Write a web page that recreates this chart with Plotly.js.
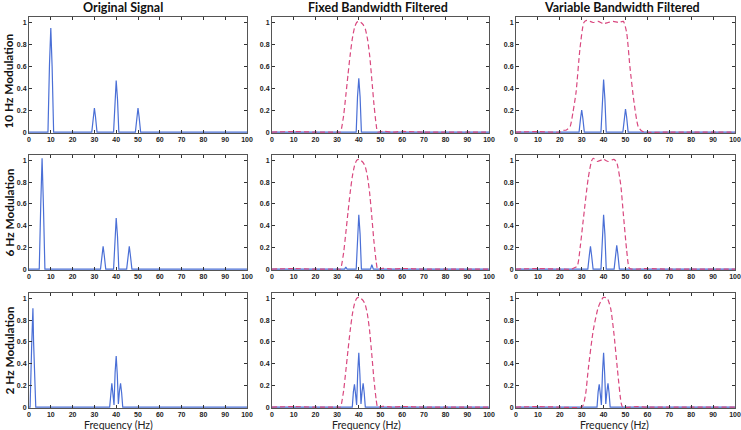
<!DOCTYPE html>
<html>
<head>
<meta charset="utf-8">
<script src="https://cdn.plot.ly/plotly-3.0.1.min.js"></script>
<style>
  html, body { margin: 0; padding: 0; background: #fff; }
  #chart { width: 741px; height: 430px; }
</style>
</head>
<body>
<div id="chart"></div>
<script>
// column / row labels
var colTitles = ['Original Signal', 'Fixed Bandwidth Filtered', 'Variable Bandwidth Filtered'];
var rowTitles = ['10 Hz Modulation', '6 Hz Modulation', '2 Hz Modulation'];
var xTickVals = [0, 10, 20, 30, 40, 50, 60, 70, 80, 90, 100];
var yTickVals = [0, 0.2, 0.4, 0.6, 0.8, 1];

// row 1: 10 Hz modulation
var orig10X = [0, 8.7, 9.4, 10, 10.6, 11.3, 28.8, 29.5, 30, 30.5, 31.2, 38.8, 39.4, 40, 40.6, 41.2, 48.8, 49.5, 50, 50.5, 51.2, 100];
var orig10Y = [0, 0, 0.62, 0.95, 0.6, 0, 0, 0.14, 0.22, 0.14, 0, 0, 0.3, 0.47, 0.3, 0, 0, 0.14, 0.22, 0.14, 0, 0];
var fixed10X = [0, 38.8, 39.4, 40, 40.6, 41.2, 100];
var fixed10Y = [0, 0, 0.32, 0.49, 0.32, 0, 0];
var var10X = [0, 28.8, 29.5, 30, 30.5, 31.2, 38.8, 39.4, 40, 40.6, 41.2, 48.8, 49.5, 50, 50.5, 51.2, 100];
var var10Y = [0, 0, 0.13, 0.2, 0.13, 0, 0, 0.3, 0.48, 0.3, 0, 0, 0.14, 0.21, 0.14, 0, 0];
var band10X = [0, 10, 20, 21.5, 23, 24.7, 26, 27.4, 29.2, 31, 32.3, 35.2, 37.5, 39.8, 42.1, 44.4, 46.7, 49, 50.5, 52, 53.9, 55.8, 57.4, 59, 70, 80, 90, 100];
var band10Y = [0, 0.005, 0, 0.015, 0.02, 0.05, 0.18, 0.36, 0.76, 1.0, 1.02, 1.0, 1.01, 0.99, 1.0, 1.01, 1.0, 1.01, 0.91, 0.6, 0.27, 0.05, 0.01, 0, 0, 0, 0, 0];

// row 2: 6 Hz modulation
var orig6X = [0, 4.7, 5.4, 6, 6.6, 7.3, 32.8, 33.5, 34, 34.5, 35.2, 38.8, 39.4, 40, 40.6, 41.2, 44.8, 45.5, 46, 46.5, 47.2, 100];
var orig6Y = [0, 0, 0.6, 1.02, 0.6, 0, 0, 0.13, 0.21, 0.13, 0, 0, 0.3, 0.47, 0.3, 0, 0, 0.13, 0.21, 0.13, 0, 0];
var fixed6X = [0, 33.5, 34, 34.6, 38.8, 39.4, 40, 40.6, 41.2, 45.4, 46, 46.7, 100];
var fixed6Y = [0, 0, 0.02, 0, 0, 0.32, 0.5, 0.32, 0, 0, 0.04, 0, 0];
var var6X = [0, 32.8, 33.5, 34, 34.5, 35.2, 38.8, 39.4, 40, 40.6, 41.2, 44.8, 45.5, 46, 46.5, 47.2, 100];
var var6Y = [0, 0, 0.13, 0.21, 0.13, 0, 0, 0.32, 0.5, 0.32, 0, 0, 0.14, 0.22, 0.14, 0, 0];
var band6X = [0, 10, 20, 25.4, 26.5, 28, 29.3, 30.7, 33, 34.6, 35.3, 37.1, 39.9, 42.1, 44.7, 46, 47.8, 49, 50.5, 51.7, 53, 60, 70, 80, 90, 100];
var band6Y = [0, 0.005, 0, 0, 0.01, 0.03, 0.2, 0.45, 0.84, 1.0, 1.02, 0.99, 1.01, 0.99, 1.01, 0.98, 0.78, 0.51, 0.18, 0.01, 0, 0.005, 0, 0, 0, 0];

// row 3: 2 Hz modulation
var orig2X = [0, 0.5, 1.2, 1.8, 2.1, 2.5, 3.1, 37, 37.5, 38, 38.5, 39, 39.5, 40, 40.5, 41, 41.5, 42, 42.5, 43, 100];
var orig2Y = [0, 0, 0.55, 0.91, 0.6, 0.32, 0, 0, 0.15, 0.22, 0.12, 0.02, 0.32, 0.47, 0.3, 0.03, 0.15, 0.22, 0.13, 0, 0];
var fixed2X = [0, 37, 37.5, 38, 38.5, 39, 39.5, 40, 40.5, 41, 41.5, 42, 42.5, 43, 100];
var fixed2Y = [0, 0, 0.14, 0.21, 0.12, 0.02, 0.32, 0.5, 0.3, 0.03, 0.14, 0.22, 0.13, 0, 0];
var var2X = [0, 37, 37.5, 38, 38.5, 39, 39.5, 40, 40.5, 41, 41.5, 42, 42.5, 43, 100];
var var2Y = [0, 0, 0.14, 0.21, 0.12, 0.02, 0.32, 0.5, 0.3, 0.03, 0.14, 0.22, 0.13, 0, 0];
var band2X = [0, 10, 20, 30, 30.7, 31.8, 33, 35.3, 37.6, 39.9, 41.7, 43.2, 44.7, 46.3, 48, 48.7, 55, 60, 70, 80, 90, 100];
var band2Y = [0, 0.005, 0, 0, 0.02, 0.12, 0.35, 0.71, 0.92, 1.01, 1.0, 0.91, 0.68, 0.35, 0.04, 0, 0.005, 0, 0, 0, 0, 0];

// fixed filter response (same for every row)
var fixedBandX = [0, 10, 20, 30, 31.5, 32, 33, 34, 35, 36, 37, 38, 39, 40, 41, 42, 43, 44, 45, 46, 47, 48, 48.7, 51, 55, 60, 70, 80, 90, 100];
var fixedBandY = [0, 0.005, 0, 0, 0, 0.03, 0.15, 0.33, 0.52, 0.7, 0.85, 0.95, 1.0, 1.01, 1.0, 0.98, 0.94, 0.85, 0.7, 0.48, 0.25, 0.07, 0, 0.008, 0, 0.006, 0, 0, 0, 0];

var signals = [
  [[orig10X, orig10Y], [fixed10X, fixed10Y], [var10X, var10Y]],
  [[orig6X, orig6Y], [fixed6X, fixed6Y], [var6X, var6Y]],
  [[orig2X, orig2Y], [fixed2X, fixed2Y], [var2X, var2Y]]
];
var bands = [
  [null, [fixedBandX, fixedBandY], [band10X, band10Y]],
  [null, [fixedBandX, fixedBandY], [band6X, band6Y]],
  [null, [fixedBandX, fixedBandY], [band2X, band2Y]]
];

var W = 741, H = 430;
var colPx = [[29, 247], [272, 489], [516, 735]];
var rowPx = [[17, 133], [155, 270], [293, 408]];

var blue = '#4a6fd6';
var pink = '#d9487f';

var data = [];
var layout = {
  width: W, height: H,
  margin: {l: 0, r: 0, t: 0, b: 0},
  paper_bgcolor: '#fff', plot_bgcolor: '#fff',
  showlegend: false,
  font: {family: 'Liberation Sans, Arial, sans-serif', color: '#222'},
  annotations: []
};

for (var r = 0; r < 3; r++) {
  for (var c = 0; c < 3; c++) {
    var n = r * 3 + c + 1;
    var xa = n === 1 ? 'x' : 'x' + n;
    var ya = n === 1 ? 'y' : 'y' + n;
    var ax = {
      domain: [colPx[c][0] / W, colPx[c][1] / W],
      anchor: ya,
      range: [0, 100],
      tickvals: xTickVals,
      ticks: 'inside', ticklen: 3, tickcolor: '#333',
      showline: true, linecolor: '#555', linewidth: 1, mirror: 'ticks',
      showgrid: false, zeroline: false,
      tickfont: {size: 7, color: '#222', weight: 'bold'}
    };
    var ay = {
      domain: [1 - rowPx[r][1] / H, 1 - rowPx[r][0] / H],
      anchor: xa,
      range: [-0.008, 1.05],
      tickvals: yTickVals,
      ticktext: ['0', '0.2', '0.4', '0.6', '0.8', '1'],
      ticks: 'inside', ticklen: 3, tickcolor: '#333',
      showline: true, linecolor: '#555', linewidth: 1, mirror: 'ticks',
      showgrid: false, zeroline: false,
      tickfont: {size: 7, color: '#222', weight: 'bold'}
    };
    layout['xaxis' + (n === 1 ? '' : n)] = ax;
    layout['yaxis' + (n === 1 ? '' : n)] = ay;

    var s = signals[r][c];
    data.push({
      x: s[0], y: s[1], xaxis: xa, yaxis: ya,
      type: 'scatter', mode: 'lines',
      line: {color: blue, width: 1.2},
      hoverinfo: 'skip'
    });
    var b = bands[r][c];
    if (b) {
      data.push({
        x: b[0], y: b[1], xaxis: xa, yaxis: ya,
        type: 'scatter', mode: 'lines',
        line: {color: pink, width: 1.2, dash: '5px,3px', shape: 'spline', smoothing: 0.6},
        hoverinfo: 'skip'
      });
    }
  }
}

// column titles
var titleX = [123, 378, 622];
for (var i = 0; i < 3; i++) {
  layout.annotations.push({
    text: '<b>' + colTitles[i] + '</b>', xref: 'paper', yref: 'paper',
    x: titleX[i] / W, y: 1 - 7.5 / H, showarrow: false,
    xanchor: 'center', yanchor: 'middle',
    font: {family: 'Lato, sans-serif', size: 12.5, color: '#111'}
  });
}
// row titles
var rowY = [81, 213, 351];
for (var j = 0; j < 3; j++) {
  layout.annotations.push({
    text: '<b>' + rowTitles[j] + '</b>', xref: 'paper', yref: 'paper',
    x: 8.5 / W, y: 1 - rowY[j] / H, showarrow: false, textangle: -90,
    xanchor: 'center', yanchor: 'middle',
    font: {family: 'Lato, sans-serif', size: 11.8, color: '#111'}
  });
}
// x axis labels on bottom row
var freqX = [118.5, 366, 614];
for (var k = 0; k < 3; k++) {
  layout.annotations.push({
    text: 'Frequency (Hz)', xref: 'paper', yref: 'paper',
    x: freqX[k] / W, y: 1 - 424.5 / H, showarrow: false,
    xanchor: 'center', yanchor: 'middle',
    font: {family: 'Lato, sans-serif', size: 10.5, color: '#222'}
  });
}

Plotly.newPlot('chart', data, layout, {displayModeBar: false, staticPlot: true});
</script>
</body>
</html>
